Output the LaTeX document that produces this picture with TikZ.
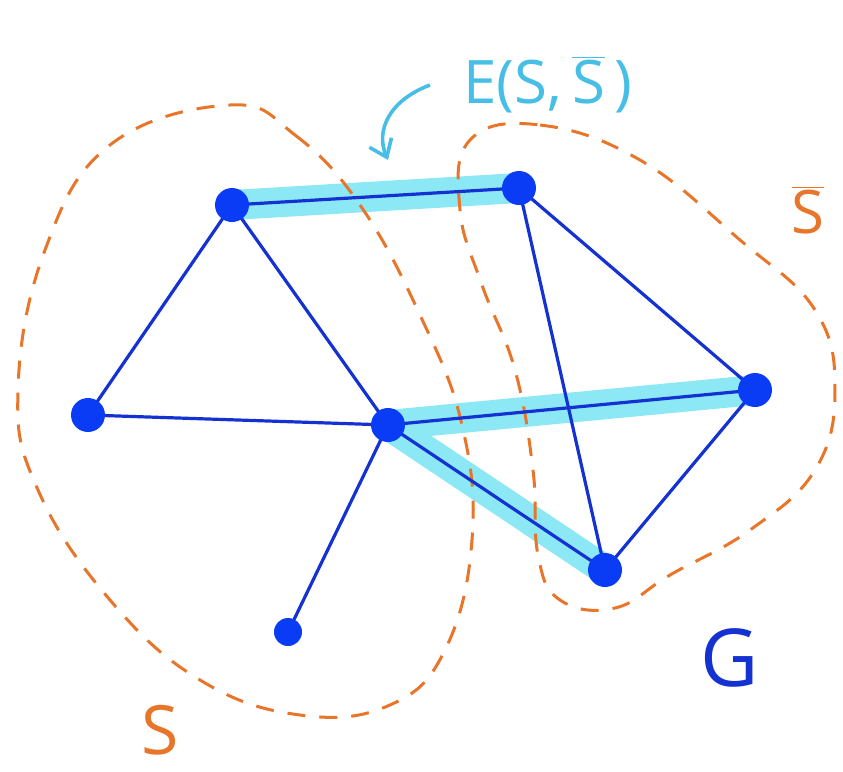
\documentclass[tikz,border=0pt]{standalone}
\usepackage{fontspec}
\setmainfont{Open Sans}
\usetikzlibrary{arrows.meta}
\definecolor{gblue}{RGB}{20,50,210}
\definecolor{vblue}{RGB}{10,60,245}
\definecolor{orng}{RGB}{232,118,42}
\definecolor{cyanhl}{RGB}{140,232,245}
\definecolor{cyantxt}{RGB}{70,190,230}
\tikzset{
  vtx/.style={circle,fill=vblue,inner sep=0pt,minimum size=17pt},
  edge/.style={gblue,line width=1.6pt},
  hl/.style={cyanhl,line width=15pt},
  cut/.style={orng,line width=1.5pt,dash pattern=on 9pt off 7pt},
  lbl/.style={font=\fontsize{30}{30}\selectfont}
}
\begin{document}
\begin{tikzpicture}[x=0.5pt,y=-0.5pt]
\useasboundingbox (0,0) rectangle (843,772);
\coordinate (A) at (232,205);
\coordinate (B) at (519,188);
\coordinate (L) at (88,415);
\coordinate (C) at (388,425);
\coordinate (R) at (755,390);
\coordinate (D) at (605,570);
\coordinate (P) at (288,632);
% highlights
\draw[hl] (A) -- (B);
\draw[hl] (C) -- (R);
\draw[hl] (C) -- (D);
% cut curves
\draw[cut] plot[smooth cycle,tension=0.7] coordinates {(230,105) (295,135) (360,205) (420,315) (462,425) (472,540) (445,650) (390,705) (300,715) (200,680) (110,600) (38,490) (18,390) (45,250) (110,145)};
\draw[cut] plot[smooth cycle,tension=0.7] coordinates {(470,140) (540,125) (640,160) (740,240) (815,310) (835,390) (815,470) (750,530) (670,575) (615,608) (560,600) (538,555) (533,470) (515,370) (482,285) (460,210)};
% edges
\draw[edge] (A) -- (B);
\draw[edge] (A) -- (L);
\draw[edge] (A) -- (C);
\draw[edge] (L) -- (C);
\draw[edge] (C) -- (P);
\draw[edge] (C) -- (R);
\draw[edge] (C) -- (D);
\draw[edge] (B) -- (D);
\draw[edge] (B) -- (R);
\draw[edge] (R) -- (D);
% vertices
\node[vtx] (nA) at (A) {};
\node[vtx] (nB) at (B) {};
\node[vtx] (nL) at (L) {};
\node[vtx] (nC) at (C) {};
\node[vtx] (nR) at (R) {};
\node[vtx] (nD) at (D) {};
\node[vtx,minimum size=14pt] (nP) at (P) {};
% labels
\node[lbl,text=cyantxt] (eS) at (548,85) {E(S,\,$\overline{\mathrm{S}}$\,)};
\coordinate (arrS) at (430,85);
\coordinate (arrE) at (388,160);
\draw[cyantxt,line width=1.8pt,-{Straight Barb[length=8pt,width=12pt]}] (arrS) .. controls (390,100) and (375,130) .. (arrE);
\node[lbl,text=orng] (Sbar) at (808,210) {$\overline{\mathrm{S}}$};
\node[lbl,text=orng,font=\fontsize{34}{34}\selectfont] (S) at (160,730) {S};
\node[lbl,text=gblue,font=\fontsize{40}{40}\selectfont] (G) at (730,658) {G};
\end{tikzpicture}
\end{document}
